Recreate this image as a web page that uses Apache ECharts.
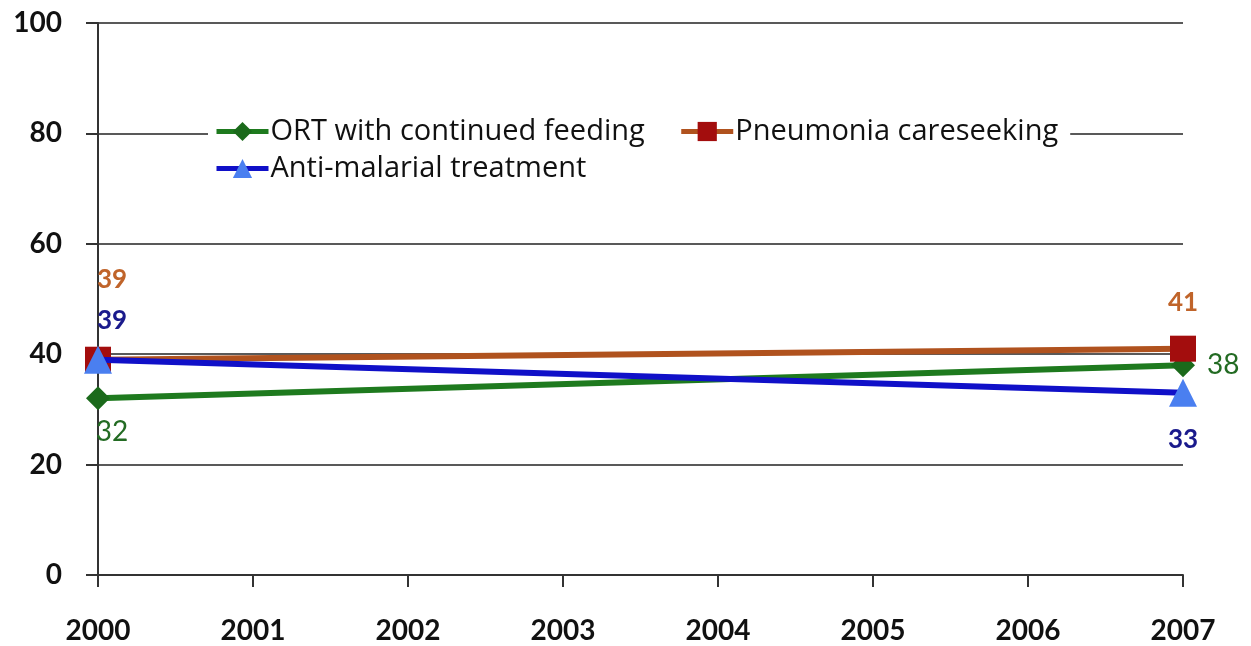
<!DOCTYPE html>
<html><head><meta charset="utf-8">
<script src="https://cdn.jsdelivr.net/npm/echarts@6/dist/echarts.min.js"></script>
<style>html,body{margin:0;padding:0;background:#fff}#c{width:1251px;height:646px}</style>
</head><body><div id="c"></div>
<script>
const years = [2000, 2007];
const xTicks = [2000, 2001, 2002, 2003, 2004, 2005, 2006, 2007];
const yTicks = [0, 20, 40, 60, 80, 100];
const ortValues = [32, 38];
const pneumoniaValues = [39, 41];
const malariaValues = [39, 33];
const seriesNames = ['ORT with continued feeding', 'Pneumonia careseeking', 'Anti-malarial treatment'];

const FONT = '"Liberation Sans Narrow", "Open Sans", Arial, sans-serif';
const AXFONT = 'Lato, "Open Sans", sans-serif';
const pairs = vals => years.map((y, i) => [y, vals[i]]);

function withLabels(vals, cfgs) {
  return pairs(vals).map((p, i) => ({ value: p, label: cfgs[i] }));
}

const chart = echarts.init(document.getElementById('c'), null, { renderer: 'canvas' });
chart.setOption({
  animation: false,
  backgroundColor: '#fff',
  grid: { left: 98, right: 68, top: 23, bottom: 71, containLabel: false },
  xAxis: {
    type: 'value', min: 2000, max: 2007, interval: 1,
    axisLine: { lineStyle: { color: '#333', width: 2 } },
    axisTick: { show: true, length: 12, lineStyle: { color: '#333', width: 2 } },
    splitLine: { show: false },
    axisLabel: { color: '#111', fontSize: 28, fontWeight: 'bold', fontFamily: AXFONT, margin: 42,
      formatter: v => xTicks.includes(v) ? String(v) : '' }
  },
  yAxis: {
    type: 'value', min: 0, max: 100, interval: 20,
    axisLine: { show: true, lineStyle: { color: '#333', width: 2 } },
    axisTick: { show: true, length: 12, lineStyle: { color: '#333', width: 2 } },
    splitLine: { show: true, lineStyle: { color: '#222', width: 1.5 } },
    axisLabel: { color: '#111', fontSize: 28, fontWeight: 'bold', fontFamily: AXFONT, margin: 36,
      formatter: v => yTicks.includes(v) ? String(v) : '' }
  },
  legend: [
    { data: [seriesNames[0], seriesNames[1]], left: 208, top: 113, orient: 'horizontal',
      itemWidth: 52, itemHeight: 24, itemGap: 34, backgroundColor: '#fff', padding: [4, 12, 4, 6],
      lineStyle: { width: 5 },
      textStyle: { fontSize: 29, fontFamily: FONT, color: '#111', padding: [0, 0, 0, -3] } },
    { data: [seriesNames[2]], left: 208, top: 150, orient: 'horizontal',
      itemWidth: 52, itemHeight: 24, backgroundColor: 'rgba(255,255,255,0)', padding: [4, 6, 4, 6],
      lineStyle: { width: 5 },
      textStyle: { fontSize: 29, fontFamily: FONT, color: '#111', padding: [0, 0, 0, -3] } }
  ],
  series: [
    {
      name: seriesNames[0], type: 'line', z: 2,
      data: withLabels(ortValues, [
        { show: true, position: 'bottom', distance: 8, offset: [14, 0] },
        { show: true, position: 'right', distance: 12, fontSize: 28, fontWeight: 'normal' }
      ]),
      symbol: 'diamond', symbolSize: 24,
      lineStyle: { color: '#1e7a1e', width: 6 },
      itemStyle: { color: '#1b6a1b' },
      label: { color: '#236b23', fontSize: 28, fontFamily: AXFONT }
    },
    {
      name: seriesNames[1], type: 'line', z: 3,
      data: withLabels(pneumoniaValues, [
        { show: true, position: 'top', distance: 54, offset: [14, 0] },
        { show: true, position: 'top', distance: 20 }
      ]),
      symbol: 'rect', symbolSize: 26,
      lineStyle: { color: '#b0521e', width: 6 },
      itemStyle: { color: '#a30d0d' },
      label: { color: '#c0642a', fontSize: 26, fontFamily: AXFONT, fontWeight: 'bold' }
    },
    {
      name: seriesNames[2], type: 'line', z: 4,
      data: withLabels(malariaValues, [
        { show: true, position: 'top', distance: 12, offset: [14, 0] },
        { show: true, position: 'bottom', distance: 20 }
      ]),
      symbol: 'triangle', symbolSize: 28,
      lineStyle: { color: '#1010c8', width: 6 },
      itemStyle: { color: '#4a7ff0' },
      label: { color: '#1a1a8c', fontSize: 26, fontFamily: AXFONT, fontWeight: 'bold' }
    }
  ]
});
</script></body></html>
